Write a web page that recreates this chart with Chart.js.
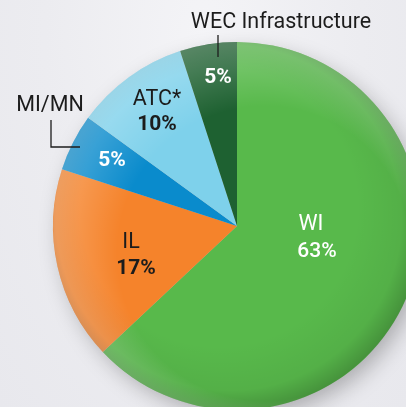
<!DOCTYPE html>
<html>
<head>
<meta charset="utf-8">
<script src="https://cdn.jsdelivr.net/npm/chart.js@4"></script>
<style>
  html, body { margin:0; padding:0; width:406px; height:407px; overflow:hidden;
    background: radial-gradient(ellipse at 50% 10%, #f4f4f7 0%, #ececf0 55%, #e8e8ed 100%); }
  #wrap { position:absolute; left:0; top:0; width:440px; height:440px; }
</style>
</head>
<body>
<div id="wrap"><canvas id="pie" width="440" height="440"></canvas></div>
<script>
// share of total, clockwise from 12 o'clock
const labels = ['WI', 'IL', 'MI/MN', 'ATC*', 'WEC Infrastructure'];
const shares = [63, 17, 5, 10, 5];
const colors = ['#58b94b', '#f5832b', '#0a8bcc', '#7ed1eb', '#1e6131'];

const FF = "Roboto, 'Liberation Sans', sans-serif";
const DARK = '#1c1c1c';

// text placement: [name line, value line] for each slice
const tags = [
  { name:[311,230], val:[317,257], color:'#fff', nameColor:'#fff', bold:false },
  { name:[131,248], val:[136,274], color:DARK, nameColor:DARK, bold:true },
  { name:[50,111],  val:[112,166], color:'#fff', nameColor:DARK, bold:true },
  { name:[157,105], val:[157,130], color:DARK, nameColor:DARK, bold:true },
  { name:[281,28],  val:[218,83],  color:'#fff', nameColor:DARK, bold:true },
];

const shade = {
  id:'shade',
  beforeDatasetsDraw(chart) {
    const a = chart.getDatasetMeta(0).data[0]; if (!a) return;
    const c = chart.ctx; c.save();
    c.shadowColor = 'rgba(0,0,0,0.28)'; c.shadowBlur = 22; c.shadowOffsetX = 6; c.shadowOffsetY = 8;
    c.fillStyle = '#bbb'; c.beginPath(); c.arc(a.x, a.y, a.outerRadius - 2, 0, Math.PI*2); c.fill();
    c.restore();
  },
  afterDatasetsDraw(chart) {
    const a = chart.getDatasetMeta(0).data[0]; if (!a) return;
    const c = chart.ctx, r = a.outerRadius; c.save();
    const g = c.createRadialGradient(a.x - r*0.1, a.y - r*0.1, r*0.75, a.x - r*0.02, a.y - r*0.02, r*1.02);
    g.addColorStop(0, 'rgba(0,0,0,0)');
    g.addColorStop(0.7, 'rgba(0,0,0,0.05)');
    g.addColorStop(1, 'rgba(0,0,0,0.2)');
    c.fillStyle = g; c.beginPath(); c.arc(a.x, a.y, r, 0, Math.PI*2); c.fill();
    const h = c.createRadialGradient(a.x + r*0.15, a.y + r*0.15, r*0.8, a.x + r*0.05, a.y + r*0.05, r*1.05);
    h.addColorStop(0, 'rgba(255,255,255,0)');
    h.addColorStop(1, 'rgba(255,255,255,0.25)');
    c.fillStyle = h; c.beginPath(); c.arc(a.x, a.y, r, 0, Math.PI*2); c.fill();
    c.restore();
  }
};

const tagger = {
  id:'tagger',
  afterDraw(chart) {
    const c = chart.ctx; c.save(); c.textAlign = 'center'; c.textBaseline = 'alphabetic';
    labels.forEach((l, i) => {
      const t = tags[i];
      c.font = `21.5px ${FF}`; c.fillStyle = t.nameColor; c.fillText(l, t.name[0], t.name[1]);
      c.font = `${t.bold ? 'bold' : '500'} 21px ${FF}`; c.fillStyle = t.color; c.fillText(shares[i] + '%', t.val[0], t.val[1]);
    });
    // leader lines
    c.strokeStyle = DARK; c.lineWidth = 1.3;
    c.beginPath(); c.moveTo(218, 35); c.lineTo(218, 57); c.stroke();
    c.beginPath(); c.moveTo(51, 120); c.lineTo(51, 147); c.lineTo(80, 147); c.stroke();
    c.restore();
  }
};

new Chart(document.getElementById('pie').getContext('2d'), {
  type:'pie',
  data:{ labels, datasets:[{ data:shares, backgroundColor:colors, borderWidth:0 }] },
  options:{
    responsive:false, animation:false,
    layout:{ padding:{ left:53, top:42, right:19, bottom:30 } },
    plugins:{ legend:{ display:false }, tooltip:{ enabled:false } }
  },
  plugins:[shade, tagger]
});
</script>
</body>
</html>
